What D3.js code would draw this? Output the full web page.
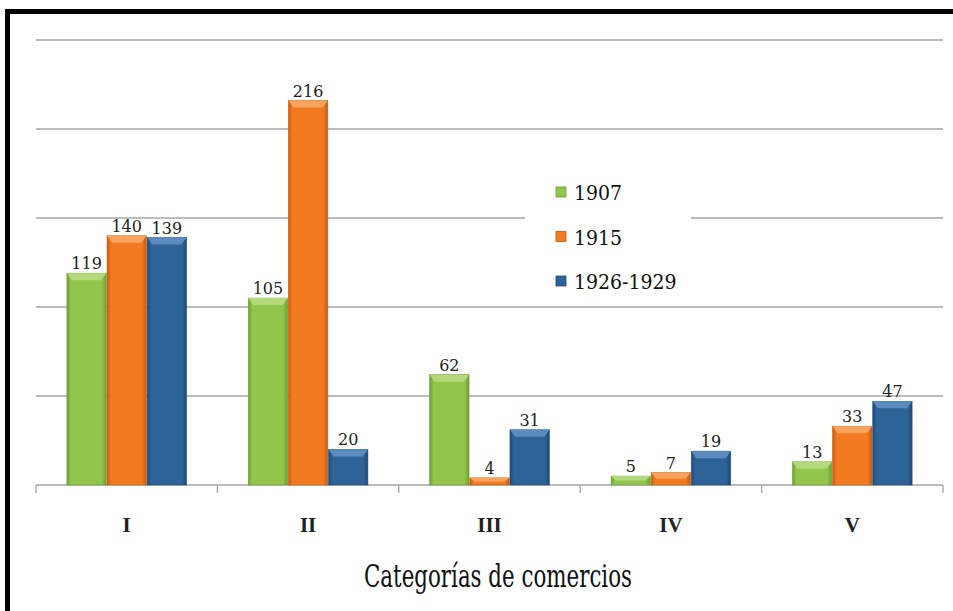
<!DOCTYPE html>
<html>
<head>
<meta charset="utf-8">
<script src="https://cdn.jsdelivr.net/npm/d3@7"></script>
<style>
body { margin: 0; background: #fff; }
</style>
</head>
<body>
<script>
var categories = ["I", "II", "III", "IV", "V"];
var series = ["1907", "1915", "1926-1929"];
var values1907 = [119, 105, 62, 5, 13];
var values1915 = [140, 216, 4, 7, 33];
var values1926 = [139, 20, 31, 19, 47];
var yTicks = [0, 50, 100, 150, 200, 250];
var axisTitle = "Categorías de comercios";

var colors = ["#92c54c", "#f37a21", "#2e6398"];
var darks  = ["#6f9e36", "#c75c10", "#1f4a78"];
var lights = ["#b4d97c", "#f8a35e", "#5a8cc0"];

var serifBold = "'Liberation Serif', 'Times New Roman', Times, serif";
var serif = "'DejaVu Serif Condensed', 'DejaVu Serif', serif";

var width = 953, height = 611;

var svg = d3.select("body").append("svg")
  .attr("width", width)
  .attr("height", height);

svg.append("rect").attr("width", width).attr("height", height).attr("fill", "#fff");

// frame (top + left only visible)
svg.append("line").attr("x1", 5).attr("x2", width).attr("y1", 11.5).attr("y2", 11.5)
  .attr("stroke", "#000").attr("stroke-width", 5);
svg.append("line").attr("x1", 7.5).attr("x2", 7.5).attr("y1", 9).attr("y2", height)
  .attr("stroke", "#000").attr("stroke-width", 5);

var y = d3.scaleLinear().domain([0, 250]).range([485, 40]);
var x0 = d3.scaleBand().domain(categories).range([36, 943]).paddingInner(0).paddingOuter(0);
var x1 = d3.scaleBand().domain(series).range([0, x0.bandwidth()]).paddingOuter(0.77).paddingInner(0.02);

var defs = svg.append("defs");
series.forEach(function(s, i) {
  var g = defs.append("linearGradient").attr("id", "g" + i)
    .attr("x1", "0%").attr("x2", "100%").attr("y1", "0%").attr("y2", "0%");
  g.append("stop").attr("offset", "0%").attr("stop-color", darks[i]);
  g.append("stop").attr("offset", "10%").attr("stop-color", colors[i]);
  g.append("stop").attr("offset", "88%").attr("stop-color", colors[i]);
  g.append("stop").attr("offset", "100%").attr("stop-color", darks[i]);
});

// gridlines
svg.append("g").selectAll("line").data(yTicks.slice(1)).enter().append("line")
  .attr("x1", 36).attr("x2", 943)
  .attr("y1", function(d) { return y(d); }).attr("y2", function(d) { return y(d); })
  .attr("stroke", "#a6a6a6").attr("stroke-width", 1.3);

// x axis
var xAxis = svg.append("g").attr("transform", "translate(0," + y(0) + ")");
xAxis.append("line").attr("x1", 36).attr("x2", 943).attr("stroke", "#a6a6a6").attr("stroke-width", 1.3);
var bounds = categories.map(function(c) { return x0(c); }).concat([943]);
xAxis.selectAll(".tk").data(bounds).enter().append("line")
  .attr("x1", function(d) { return d; }).attr("x2", function(d) { return d; })
  .attr("y1", 0).attr("y2", 8).attr("stroke", "#a6a6a6").attr("stroke-width", 1.3);
xAxis.selectAll("text").data(categories).enter().append("text")
  .attr("x", function(d) { return x0(d) + x0.bandwidth() / 2; })
  .attr("y", 47)
  .attr("text-anchor", "middle")
  .attr("font-family", serifBold)
  .attr("font-size", 21)
  .attr("font-weight", "bold")
  .attr("fill", "#222")
  .text(function(d) { return d; });

var data = [values1907, values1915, values1926];

series.forEach(function(s, i) {
  var g = svg.append("g");
  var bw = x1.bandwidth();
  var bars = g.selectAll("g").data(categories).enter().append("g");
  bars.append("rect")
    .attr("x", function(c) { return x0(c) + x1(s); })
    .attr("y", function(c, j) { return y(data[i][j]); })
    .attr("width", bw)
    .attr("height", function(c, j) { return y(0) - y(data[i][j]); })
    .attr("fill", "url(#g" + i + ")")
    .attr("stroke", darks[i]).attr("stroke-width", 0.6);
  // top bevel
  bars.append("path")
    .attr("d", function(c, j) {
      var xl = x0(c) + x1(s), yt = y(data[i][j]);
      var h = Math.min(7, (y(0) - yt) / 2);
      return "M" + xl + "," + yt + "L" + (xl + bw) + "," + yt +
        "L" + (xl + bw - 5) + "," + (yt + h) + "L" + (xl + 5) + "," + (yt + h) + "Z";
    })
    .attr("fill", lights[i]);
  bars.append("text")
    .attr("x", function(c) { return x0(c) + x1(s) + bw / 2; })
    .attr("y", function(c, j) { return y(data[i][j]) - 4; })
    .attr("text-anchor", "middle")
    .attr("font-family", "DejaVu Serif")
    .attr("font-size", 16)
    .attr("fill", "#222")
    .text(function(c, j) { return data[i][j]; });
});

// legend
var legend = svg.append("g").attr("transform", "translate(525,168)");
legend.append("rect").attr("x", 0).attr("y", 0).attr("width", 166).attr("height", 130).attr("fill", "#fff");
var li = legend.selectAll(".li").data(series).enter().append("g")
  .attr("transform", function(d, i) { return "translate(31," + (19 + i * 44.5) + ")"; });
li.append("rect").attr("width", 10).attr("height", 10)
  .attr("fill", function(d, i) { return colors[i]; })
  .attr("stroke", function(d, i) { return darks[i]; }).attr("stroke-width", 0.8);
li.append("text").attr("x", 18).attr("y", 13)
  .attr("font-family", serif)
  .attr("font-size", 21)
  .attr("fill", "#111")
  .text(function(d) { return d; });

svg.append("text")
  .attr("x", 498).attr("y", 587)
  .attr("text-anchor", "middle")
  .attr("font-family", serif)
  .attr("font-size", 31)
  .attr("textLength", 268)
  .attr("lengthAdjust", "spacingAndGlyphs")
  .attr("fill", "#111")
  .text(axisTitle);
</script>
</body>
</html>
